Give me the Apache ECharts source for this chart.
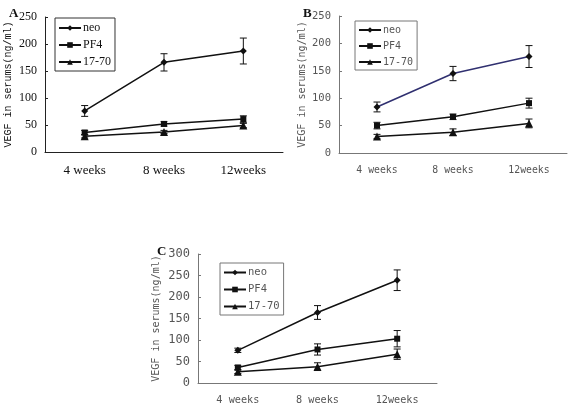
<!DOCTYPE html>
<html><head><meta charset="utf-8">
<script src="https://cdn.jsdelivr.net/npm/echarts@6/dist/echarts.min.js"></script>
<style>html,body{margin:0;padding:0;background:#fff}#c{width:574px;height:410px}</style>
</head><body><div id="c"></div>
<script>
const categories = ['4 weeks', '8 weeks', '12weeks'];
const seriesNames = ['neo', 'PF4', '17-70'];
// Panel A
const A_neo = [76, 166, 187];
const A_neoErr = [10, 16, 24];
const A_pf4 = [36, 52, 61];
const A_pf4Err = [4, 4, 6];
const A_t = [29, 37, 49];
const A_tErr = [3, 3, 4];
// Panel B
const B_neo = [84, 145, 176];
const B_neoErr = [9, 13, 20];
const B_pf4 = [50, 66, 91];
const B_pf4Err = [6, 5, 9];
const B_t = [30, 38, 54];
const B_tErr = [4, 6, 8];
// Panel C
const C_neo = [76, 164, 239];
const C_neoErr = [5, 16, 24];
const C_pf4 = [36, 78, 103];
const C_pf4Err = [5, 13, 19];
const C_t = [26, 38, 67];
const C_tErr = [4, 9, 12];
const yTicksAB = [0, 50, 100, 150, 200, 250];
const yTicksC = [0, 50, 100, 150, 200, 250, 300];

const chart = echarts.init(document.getElementById('c'), null, {renderer: 'canvas'});

const MONO = 'DejaVu Sans Mono';
const panels = [
  {grid: {left: 45, top: 17, width: 238, height: 135}, max: 250, data: [[A_neo, A_neoErr], [A_pf4, A_pf4Err], [A_t, A_tErr]],
   legend: {left: 55, top: 18}, title: {text: 'A', left: 4, top: 2}, style: 'A', nameGap: 32,
   tickFont: 'Liberation Serif', tickSize: 12, xFont: 'Liberation Serif', xSize: 13, legSize: 12, legFont: 'Liberation Serif', nameFont: 'Liberation Mono', nameSize: 10},
  {grid: {left: 339, top: 16, width: 228, height: 137}, max: 250, data: [[B_neo, B_neoErr], [B_pf4, B_pf4Err], [B_t, B_tErr]],
   legend: {left: 355, top: 21}, title: {text: 'B', left: 298, top: 2}, style: 'B', nameGap: 32,
   tickFont: MONO, tickSize: 10.5, xFont: MONO, xSize: 9.8, legSize: 10, legFont: MONO, nameFont: MONO, nameSize: 10},
  {grid: {left: 198, top: 254, width: 239, height: 129}, max: 300, data: [[C_neo, C_neoErr], [C_pf4, C_pf4Err], [C_t, C_tErr]],
   legend: {left: 220, top: 263}, title: {text: 'C', left: 152, top: 240}, style: 'C', nameGap: 37,
   tickFont: MONO, tickSize: 12, xFont: MONO, xSize: 10.2, legSize: 10.5, legFont: MONO, nameFont: MONO, nameSize: 10}
];
const symbols = ['diamond', 'rect', 'triangle'];
const symSizes = [7, 6, 8];

const grids = [], xAxes = [], yAxes = [], series = [], legends = [], titles = [];
panels.forEach((p, i) => {
  const isA = p.style === 'A';
  const tickColor = isA ? '#111' : '#555';
  const axisColor = isA ? '#222' : '#777';
  grids.push(p.grid);
  titles.push({text: p.title.text, left: p.title.left, top: p.title.top,
    textStyle: {fontFamily: 'Liberation Serif', fontWeight: 'bold', fontSize: 13, color: '#111'}});
  xAxes.push({type: 'category', gridIndex: i, data: categories, boundaryGap: true,
    axisLine: {lineStyle: {color: axisColor, width: 1}},
    axisTick: {inside: true, length: 4, lineStyle: {color: axisColor}},
    axisLabel: {margin: 12, fontFamily: p.xFont, fontSize: p.xSize, color: tickColor}});
  yAxes.push({type: 'value', gridIndex: i, min: 0, max: p.max, interval: 50,
    name: 'VEGF in serums(ng/ml)', nameLocation: 'middle', nameRotate: 90, nameGap: p.nameGap,
    nameTextStyle: {fontFamily: p.nameFont, fontSize: p.nameSize, color: tickColor},
    splitLine: {show: false},
    axisLine: {show: true, lineStyle: {color: axisColor, width: 1}},
    axisTick: {show: true, inside: true, length: 3, lineStyle: {color: axisColor}},
    axisLabel: {margin: 8, fontFamily: p.tickFont, fontSize: p.tickSize, color: tickColor,
      customValues: p.max === 300 ? yTicksC : yTicksAB}});
  p.data.forEach((d, k) => {
    const lineColor = (p.style === 'B' && k === 0) ? '#303070' : '#111';
    series.push({type: 'line', name: seriesNames[k], xAxisIndex: i, yAxisIndex: i, data: d[0],
      symbol: symbols[k], symbolSize: symSizes[k], showSymbol: true,
      lineStyle: {color: lineColor, width: 1.5}, itemStyle: {color: '#111'}, z: 3});
    series.push({type: 'custom', xAxisIndex: i, yAxisIndex: i, silent: true, z: 4,
      data: d[0].map((v, j) => [j, v, d[1][j]]),
      renderItem: function (params, api) {
        const x = api.value(0), v = api.value(1), e = api.value(2);
        const top = api.coord([x, v + e]);
        const bot = api.coord([x, v - e]);
        const w = 3.5;
        const st = {stroke: '#111', lineWidth: 1};
        return {type: 'group', children: [
          {type: 'line', shape: {x1: top[0], y1: top[1], x2: bot[0], y2: bot[1]}, style: st},
          {type: 'line', shape: {x1: top[0] - w, y1: top[1], x2: top[0] + w, y2: top[1]}, style: st},
          {type: 'line', shape: {x1: bot[0] - w, y1: bot[1], x2: bot[0] + w, y2: bot[1]}, style: st}
        ]};
      }});
  });
  legends.push({left: p.legend.left, top: p.legend.top, orient: 'vertical', data: seriesNames,
    itemWidth: 22, itemHeight: 7, itemGap: isA ? 5 : 6, padding: [4, 4, 3, 3], borderRadius: 0,
    borderColor: isA ? '#333' : '#777', borderWidth: 1,
    textStyle: {fontFamily: p.legFont, fontSize: p.legSize, color: tickColor, padding: [0, 0, 0, -3]}});
});

chart.setOption({animation: false, backgroundColor: '#fff', title: titles, grid: grids, xAxis: xAxes, yAxis: yAxes, series: series, legend: legends});
</script></body></html>
